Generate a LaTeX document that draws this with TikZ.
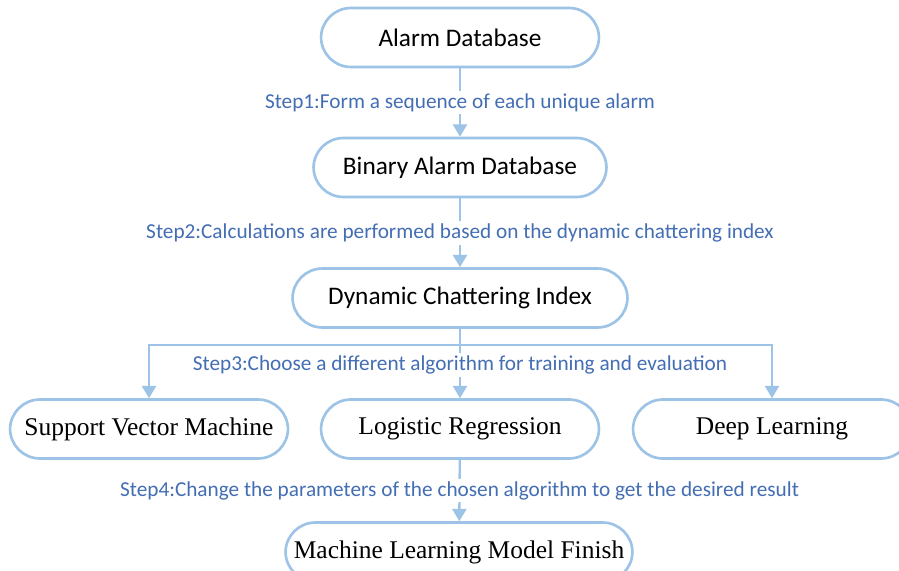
\documentclass[tikz,border=0pt]{standalone}
\usepackage{fontspec}
\setmainfont{Liberation Serif}
\newfontfamily\calibri{Carlito}
\usetikzlibrary{arrows.meta}
\definecolor{flowline}{RGB}{157,195,230}
\definecolor{steptext}{RGB}{68,110,180}
\tikzset{
  box/.style={draw=flowline, line width=1.5pt, rounded corners=17pt,
    minimum height=1.18cm, inner sep=2pt},
  sansbox/.style={box, font=\calibri\fontsize{14.4}{17}\selectfont},
  serifbox/.style={box, font=\fontsize{14.5}{17}\selectfont},
  flow/.style={draw=flowline, line width=1.3pt,
    -{Triangle[width=8pt,length=7pt]}},
  steplabel/.style={fill=white, text=steptext, inner sep=1.5pt,
    font=\calibri\fontsize{12.1}{14}\selectfont}
}
\begin{document}
\begin{tikzpicture}[x=0.02cm,y=-0.02cm]
  \useasboundingbox[fill=white] (0,0) rectangle (899,571);
  %Upper boxes
  \node[sansbox, minimum width=5.56cm] (alarm) at (460,37.5) {Alarm Database};
  \node[sansbox, minimum width=5.86cm] (binary) at (460,167.5) {Binary Alarm Database};
  \node[sansbox, minimum width=6.70cm] (dci) at (460,298) {Dynamic Chattering Index};
  %Algorithms
  \node[serifbox, minimum width=5.56cm] (svm) at (149,429) {Support Vector Machine};
  \node[serifbox, minimum width=5.56cm] (lr) at (460,429) {Logistic Regression};
  \node[serifbox, minimum width=5.56cm] (dl) at (772,429) {Deep Learning};
  %Final model
  \node[serifbox, minimum width=6.94cm] (finish) at (459,552) {Machine Learning Model Finish};

  %Steps
  \draw[flow] (alarm) -- node[steplabel] {Step1:Form a sequence of each unique alarm} (binary);
  \draw[flow] (binary) -- node[steplabel] {Step2:Calculations are performed based on the dynamic chattering index} (dci);
  \coordinate (split) at (460,345);
  \draw[flowline, line width=1.3pt] (dci) -- (split);
  \draw[flow] (split) -| (svm);
  \draw[flow] (split) -| (dl);
  \draw[flow] (split) -- node[steplabel, pos=0.38] {Step3:Choose a different algorithm for training and evaluation} (lr);
  \draw[flow] (lr) -- node[steplabel] {Step4:Change the parameters of the chosen algorithm to get the desired result} (finish);
\end{tikzpicture}
\end{document}
